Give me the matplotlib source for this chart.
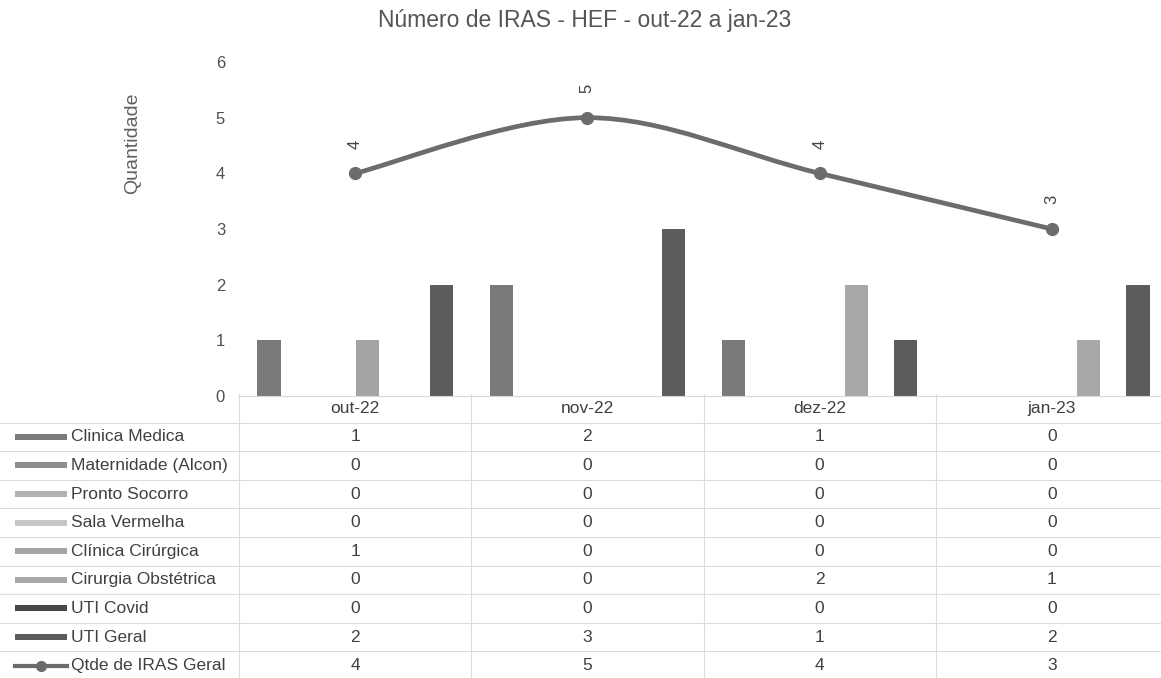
import matplotlib
matplotlib.use("Agg")
import matplotlib.pyplot as plt
from matplotlib.path import Path
from matplotlib.patches import PathPatch, Rectangle
import numpy as np

plt.rcParams['font.family'] = ['Liberation Sans', 'DejaVu Sans']

categories = ["out-22", "nov-22", "dez-22", "jan-23"]
series_names = ["Clinica Medica", "Maternidade (Alcon)", "Pronto Socorro", "Sala Vermelha",
                "Clínica Cirúrgica", "Cirurgia Obstétrica", "UTI Covid", "UTI Geral"]
clinica_medica = [1, 2, 1, 0]
maternidade = [0, 0, 0, 0]
pronto_socorro = [0, 0, 0, 0]
sala_vermelha = [0, 0, 0, 0]
clinica_cirurgica = [1, 0, 0, 0]
cirurgia_obstetrica = [0, 0, 2, 1]
uti_covid = [0, 0, 0, 0]
uti_geral = [2, 3, 1, 2]
total_name = "Qtde de IRAS Geral"
total_iras = [4, 5, 4, 3]

series_values = [clinica_medica, maternidade, pronto_socorro, sala_vermelha,
                 clinica_cirurgica, cirurgia_obstetrica, uti_covid, uti_geral]
colors = ["#7a7a7a", "#8e8e8e", "#b2b2b2", "#c6c6c6", "#a4a4a4", "#a8a8a8", "#474747", "#5c5c5c"]
line_color = "#6c6c6c"
text_color = "#404040"

W, H = 1161, 678
fig = plt.figure(figsize=(W / 100, H / 100), dpi=100)

# pixel geometry
ax_l, ax_r, ax_top, ax_bot = 239, 1168, 62, 396
ax = fig.add_axes([ax_l / W, 1 - ax_bot / H, (ax_r - ax_l) / W, (ax_bot - ax_top) / H])
ncat = len(categories)
x = np.arange(ncat)
nser = len(series_values)
slot = 0.106
for k, (vals, c) in enumerate(zip(series_values, colors)):
    offs = (k - (nser - 1) / 2) * slot
    ax.bar(x + offs, vals, width=slot * 0.95, color=c, zorder=2)

# smooth line (Catmull-Rom as Bezier)
pts = np.column_stack([x, total_iras]).astype(float)
ext = np.vstack([pts[0], pts, pts[-1]])
verts = [tuple(pts[0])]
codes = [Path.MOVETO]
for i in range(len(pts) - 1):
    p0, p1, p2, p3 = ext[i], ext[i + 1], ext[i + 2], ext[i + 3]
    c1 = p1 + (p2 - p0) / 6
    c2 = p2 - (p3 - p1) / 6
    verts += [tuple(c1), tuple(c2), tuple(p2)]
    codes += [Path.CURVE4] * 3
ax.add_patch(PathPatch(Path(verts, codes), facecolor="none", edgecolor=line_color, lw=3.4, zorder=3))
ax.plot(x, total_iras, "o", color=line_color, markersize=8.5, zorder=4)
for xi, v in zip(x, total_iras):
    ax.annotate(str(v), (xi, v), xytext=(0, 21), textcoords="offset points", rotation=90,
                ha="center", va="center", fontsize=12, color=text_color)

ax.set_xlim(-0.5, ncat - 0.5)
ax.set_ylim(0, 6)
ax.set_yticks(range(0, 7))
ax.set_xticks([])
ax.tick_params(axis="y", length=0, pad=10, labelsize=12, labelcolor="#505050")
for s in ["top", "right", "left"]:
    ax.spines[s].set_visible(False)
ax.spines["bottom"].set_color("#d9d9d9")

fig.text(585 / W, 1 - 21 / H, "Número de IRAS - HEF - out-22 a jan-23", ha="center", va="center",
         fontsize=16.5, color="#555555")
fig.text(133 / W, 1 - 143 / H, "Quantidade", rotation=90, ha="center", va="center",
         fontsize=14, color="#606060")

# data table
row_h = 28.6
t_top, t_bot = 394, 680
tax = fig.add_axes([0, 1 - t_bot / H, ax_r / W, (t_bot - t_top) / H])
cw = (ax_r - ax_l) / ncat
xd = lambda p: -0.5 + (p - ax_l) / cw
tax.set_xlim(xd(0), ncat - 0.5)
tax.set_ylim(8.5, -1.5)
tax.axis("off")
grid_c = "#dcdcdc"
for r in np.arange(-0.5, 8.5, 1.0):
    tax.plot([xd(0), ncat - 0.5], [r, r], color=grid_c, lw=0.8)
for b in np.arange(-0.5, ncat, 1.0):
    tax.plot([b, b], [-1.5, 8.5], color=grid_c, lw=0.8)

for i, c in enumerate(categories):
    tax.text(i, -1, c, ha="center", va="center", fontsize=12.5, color=text_color)

row_names = series_names + [total_name]
row_vals = series_values + [total_iras]
key_h = 6 / row_h
for r, (name, vals) in enumerate(zip(row_names, row_vals)):
    if r < nser:
        tax.add_patch(Rectangle((xd(15), r - key_h / 2), xd(67) - xd(15), key_h,
                                facecolor=colors[r], edgecolor="none"))
    else:
        tax.plot([xd(15), xd(67)], [r, r], color=line_color, lw=3)
        tax.plot([xd(41)], [r], "o", color=line_color, markersize=7)
    tax.text(xd(71), r, name, ha="left", va="center", fontsize=12.5, color=text_color)
    for i, v in enumerate(vals):
        tax.text(i, r, str(v), ha="center", va="center", fontsize=12.5, color=text_color)

fig.savefig("out.png", dpi=100)
